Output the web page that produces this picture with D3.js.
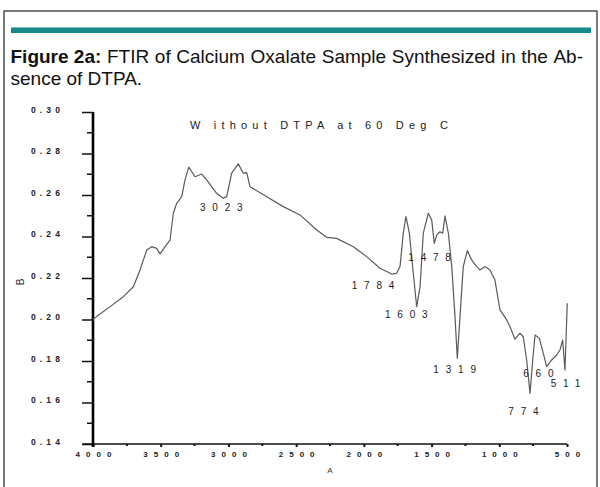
<!DOCTYPE html>
<html>
<head>
<meta charset="utf-8">
<script src="https://cdn.jsdelivr.net/npm/d3@7"></script>
<style>
  body { margin: 0; background: #fff; }
  svg { display: block; }
</style>
</head>
<body>
<svg id="chart" width="600" height="487"></svg>
<script>
// spectrum trace (wavenumber, absorbance)
const wavenumber = [4000, 3973, 3874, 3776, 3702, 3653, 3603, 3567, 3530, 3505, 3468, 3431, 3407, 3382, 3345, 3321,
  3293, 3247, 3197, 3160, 3087, 3038, 3013, 2976, 2927, 2890, 2865, 2841, 2717, 2595, 2472, 2348, 2274, 2201,
  2078, 1979, 1881, 1794, 1758, 1733, 1709, 1689, 1664, 1635, 1610, 1585, 1561, 1524, 1499, 1480, 1462, 1438,
  1418, 1401, 1376, 1351, 1327, 1310, 1290, 1266, 1236, 1204, 1167, 1142, 1105, 1069, 1032, 995, 945, 921, 884,
  847, 823, 798, 773, 753, 736, 704, 675, 650, 613, 576, 552, 532, 515, 498];
const absorbance = [0.200, 0.2014, 0.2062, 0.2110, 0.2158, 0.2239, 0.2335, 0.2351, 0.2343, 0.2316, 0.2351, 0.2383,
  0.2512, 0.2560, 0.2592, 0.2672, 0.2734, 0.2688, 0.2701, 0.2672, 0.2608, 0.2584, 0.2592, 0.2705, 0.2750, 0.2705,
  0.2708, 0.2640, 0.2592, 0.2544, 0.2504, 0.2431, 0.2396, 0.2391, 0.2351, 0.2303, 0.2247, 0.2219, 0.2223, 0.2255,
  0.2416, 0.2496, 0.2416, 0.2223, 0.2062, 0.2158, 0.2416, 0.2512, 0.2480, 0.2367, 0.2407, 0.2423, 0.2416, 0.2499,
  0.2416, 0.2255, 0.2014, 0.1813, 0.2014, 0.2255, 0.2332, 0.2287, 0.2255, 0.2239, 0.2255, 0.2239, 0.2190, 0.2046,
  0.1998, 0.1965, 0.1905, 0.1934, 0.1917, 0.1805, 0.1644, 0.1805, 0.1925, 0.1909, 0.1837, 0.1773, 0.1805, 0.1829,
  0.1853, 0.1901, 0.1757, 0.2078];

const yTicks = [0.14, 0.16, 0.18, 0.20, 0.22, 0.24, 0.26, 0.28, 0.30];
const yMinorTicks = [0.15, 0.17, 0.19, 0.21, 0.23, 0.25, 0.27, 0.29];
const xTicks = [4000, 3500, 3000, 2500, 2000, 1500, 1000, 500];
const xMinorTicks = [3750, 3250, 2750, 2250, 1750, 1250, 750];

// peak labels: text and where its left/baseline sits in data units
const peakLabels = ["3023", "1784", "1603", "1478", "1319", "660", "511", "774"];
const peakLabelW = [3210, 2090, 1844, 1672, 1487, 823, 620, 933];
const peakLabelA = [0.2523, 0.2147, 0.2006, 0.2284, 0.1744, 0.1724, 0.1676, 0.1540];

const plotTitle = "W ithout DTPA at 60 Deg C";
const captionBold = "Figure 2a:";
const captionLine1 = "FTIR of Calcium Oxalate Sample Synthesized in the Ab-";
const captionLine2 = "sence of DTPA.";

const svg = d3.select("#chart");

// outer frame and teal rule
svg.append("rect")
  .attr("x", 4).attr("y", 11)
  .attr("width", 593).attr("height", 490)
  .attr("fill", "none")
  .attr("stroke", "#333")
  .attr("stroke-width", 1.3);

svg.append("rect")
  .attr("x", 11).attr("y", 27.5)
  .attr("width", 580).attr("height", 5.5)
  .attr("fill", "#17888b");

// caption, justified on the first line
const capFont = "Liberation Sans, Arial, sans-serif";
const capSize = 19;
const capLeft = 10.5, capRight = 583;
const words = [{ t: captionBold, bold: true }]
  .concat(captionLine1.split(" ").map((t) => ({ t: t, bold: false })));
const cap = svg.append("g").attr("font-family", capFont).attr("font-size", capSize).attr("fill", "#111");
const wordNodes = words.map((w) =>
  cap.append("text")
    .attr("y", 63)
    .attr("font-weight", w.bold ? "bold" : "normal")
    .text(w.t)
);
const widths = wordNodes.map((n) => n.node().getComputedTextLength());
const gap = (capRight - capLeft - d3.sum(widths)) / (words.length - 1);
let cx = capLeft;
wordNodes.forEach((n, i) => {
  n.attr("x", cx);
  cx += widths[i] + gap;
});
cap.append("text").attr("x", capLeft).attr("y", 84.5).text(captionLine2);

// chart
const x = d3.scaleLinear().domain([4000, 500]).range([93, 567]);
const y = d3.scaleLinear().domain([0.14, 0.30]).range([444, 112]);

const tickFont = "Liberation Sans, Arial, sans-serif";

// y axis
const yAxis = svg.append("g")
  .attr("transform", `translate(${x(4000)},0)`)
  .call(d3.axisLeft(y).tickValues(yTicks).tickSize(11).tickPadding(18)
    .tickFormat(d3.format(".2f")));
yAxis.select(".domain").remove();
yAxis.selectAll(".tick line").attr("stroke", "#111").attr("stroke-width", 1.5);
yAxis.selectAll(".tick text")
  .attr("font-family", tickFont)
  .attr("font-size", 8.5)
  .attr("font-weight", "bold")
  .attr("fill", "#222")
  .attr("dy", "0.05em")
  .style("letter-spacing", "4.1px");

svg.append("g")
  .attr("transform", `translate(${x(4000)},0)`)
  .selectAll("line")
  .data(yMinorTicks)
  .enter().append("line")
  .attr("x1", -6).attr("x2", 0)
  .attr("y1", (d) => y(d)).attr("y2", (d) => y(d))
  .attr("stroke", "#111").attr("stroke-width", 1.5);

// x axis
const xAxis = svg.append("g")
  .attr("transform", `translate(0,${y(0.14)})`)
  .call(d3.axisBottom(x).tickValues(xTicks).tickSize(3).tickPadding(4.5)
    .tickFormat(d3.format("d")));
xAxis.select(".domain").remove();
xAxis.selectAll(".tick line").attr("stroke", "#111").attr("stroke-width", 2);
xAxis.selectAll(".tick text")
  .attr("font-family", tickFont)
  .attr("font-size", 8)
  .attr("font-weight", "bold")
  .attr("fill", "#222")
  .attr("dx", "3px")
  .style("letter-spacing", "6px");

svg.append("g")
  .attr("transform", `translate(0,${y(0.14)})`)
  .selectAll("line")
  .data(xMinorTicks)
  .enter().append("line")
  .attr("x1", (d) => x(d)).attr("x2", (d) => x(d))
  .attr("y1", 0).attr("y2", 2)
  .attr("stroke", "#111").attr("stroke-width", 2);

// axis lines
svg.append("line")
  .attr("x1", x(4000) - 10.5).attr("x2", x(500))
  .attr("y1", y(0.14)).attr("y2", y(0.14))
  .attr("stroke", "#111").attr("stroke-width", 1.5);
svg.append("line")
  .attr("x1", x(4000)).attr("x2", x(4000))
  .attr("y1", y(0.30)).attr("y2", y(0.14) + 3)
  .attr("stroke", "#000").attr("stroke-width", 2.6);

// axis titles
svg.append("text")
  .attr("x", (x(4000) + x(500)) / 2)
  .attr("y", 473)
  .attr("text-anchor", "middle")
  .attr("font-family", tickFont)
  .attr("font-size", 8)
  .attr("fill", "#333")
  .text("A");
svg.append("text")
  .attr("transform", `translate(23.5,${(y(0.14) + y(0.30)) / 2 + 4}) rotate(-90)`)
  .attr("text-anchor", "middle")
  .attr("font-family", tickFont)
  .attr("font-size", 10)
  .attr("fill", "#333")
  .text("B");

// spectrum
const line = d3.line()
  .x((d, i) => x(wavenumber[i]))
  .y((d) => y(d));
svg.append("path")
  .datum(absorbance)
  .attr("fill", "none")
  .attr("stroke", "#5a5a5a")
  .attr("stroke-width", 1.2)
  .attr("stroke-linejoin", "round")
  .attr("d", line);

// title inside plot
svg.append("text")
  .attr("x", x(3284))
  .attr("y", y(0.2918))
  .attr("font-family", tickFont)
  .attr("font-size", 11)
  .attr("fill", "#222")
  .style("letter-spacing", "5.2px")
  .text(plotTitle);

// peak labels
svg.append("g")
  .selectAll("text")
  .data(peakLabels)
  .enter().append("text")
  .attr("x", (d, i) => x(peakLabelW[i]))
  .attr("y", (d, i) => y(peakLabelA[i]))
  .attr("font-family", tickFont)
  .attr("font-size", 10)
  .attr("fill", "#222")
  .style("letter-spacing", "6.8px")
  .text((d) => d);
</script>
</body>
</html>
